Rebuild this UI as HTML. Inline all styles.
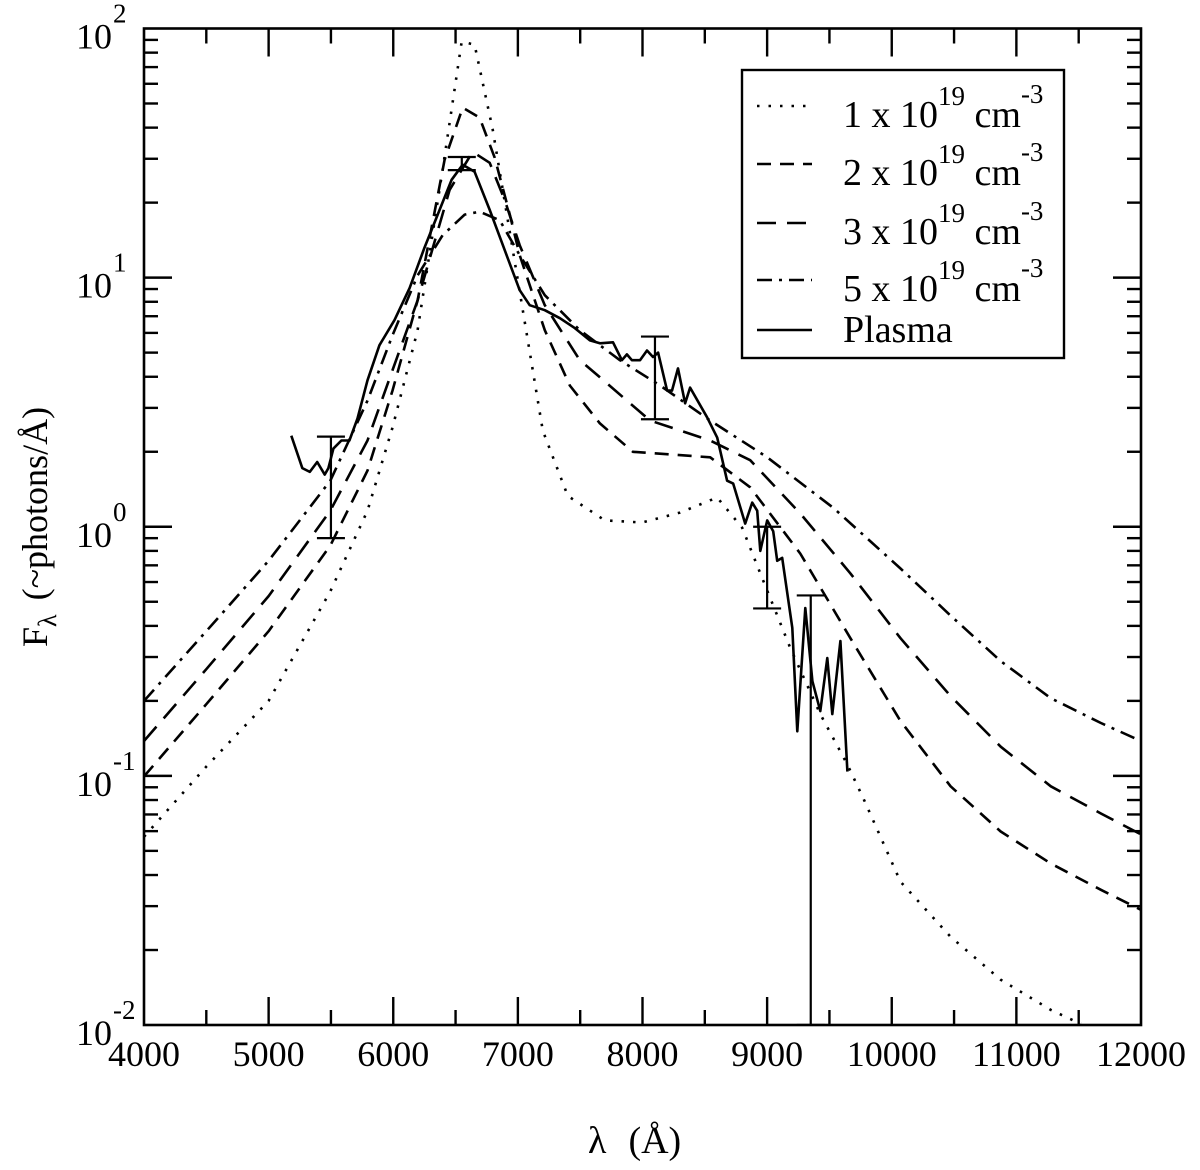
<!DOCTYPE html>
<html><head><meta charset="utf-8"><style>
html,body{margin:0;padding:0;background:#fff;width:1200px;height:1170px;overflow:hidden;position:relative;}
svg{display:block;position:absolute;left:0;top:0;overflow:hidden;font-family:"Liberation Serif",serif;}
</style></head><body>
<svg id="chart" width="1200" height="1170" viewBox="0 0 1200 1170" xmlns="http://www.w3.org/2000/svg"></svg>
<script>
// ---- data ----
const xTicks = [4000,5000,6000,7000,8000,9000,10000,11000,12000];
const yDecades = [-2,-1,0,1,2];
const lamDotted = [4000,4500,5000,5495,5793,5994,6195,6396,6549,6653,6798,6999,7200,7401,7698,7996,8301,8599,8800,8945,9186,9427,9644,9773,10070,10472,10874,11276,11517];
const valDotted = [0.057,0.109,0.20,0.55,1.16,2.5,6.15,27.1,88.7,86,39.3,9.77,2.43,1.33,1.06,1.04,1.14,1.31,0.99,0.65,0.326,0.177,0.111,0.081,0.0376,0.0226,0.0152,0.0115,0.0101];
const lamDash2 = [4000,4500,5000,5495,5793,5994,6195,6412,6557,6693,6814,6935,7015,7216,7417,7658,7923,8543,8864,9266,9668,10070,10472,10874,11276,11678,12000];
const valDash2 = [0.0995,0.194,0.381,0.84,1.68,3.52,8.1,29.7,48.1,43.9,30.3,17.9,12.3,6.15,3.69,2.6,2.0,1.90,1.44,0.78,0.357,0.166,0.0908,0.0598,0.0445,0.0349,0.029];
const lamDash3 = [4000,4500,5000,5495,5793,5994,6195,6452,6637,6774,6894,7015,7216,7497,7658,8060,8543,8864,9266,9668,10070,10472,10874,11276,11678,12000];
const valDash3 = [0.138,0.268,0.527,1.16,2.22,4.25,8.1,22.5,32.0,28.9,20.5,13.5,7.75,4.66,3.98,2.67,2.22,1.85,1.13,0.65,0.357,0.209,0.131,0.0908,0.0706,0.0582];
const lamDashDot = [4000,4500,5000,5495,5793,5994,6195,6396,6573,6693,6854,7015,7216,7497,7819,8141,8543,9001,9532,10070,10472,10874,11276,11678,12000];
const valDashDot = [0.20,0.381,0.73,1.53,3.21,5.87,10.2,14.8,17.9,18.4,17.0,12.3,8.5,6.15,4.66,3.69,2.67,1.90,1.19,0.68,0.44,0.289,0.205,0.163,0.138];
const lamPlasma = [5182,5270,5330,5390,5450,5480,5520,5584,5648,5713,5793,5889,6010,6131,6251,6372,6468,6557,6653,6774,6894,7015,7095,7216,7337,7457,7578,7658,7763,7835,7875,7915,7980,8036,8084,8125,8197,8237,8285,8342,8382,8518,8599,8679,8728,8824,8880,8920,8945,9001,9049,9081,9121,9202,9242,9306,9363,9427,9483,9523,9588,9644];
const valPlasma = [2.32,1.72,1.66,1.82,1.62,1.72,2.06,2.22,2.22,2.72,3.87,5.35,6.75,9.08,13.2,18.7,24.7,28.4,26.6,18.7,12.9,8.9,7.75,7.4,6.87,6.27,5.6,5.45,5.5,4.66,4.92,4.66,4.66,5.1,4.8,5.0,3.52,3.52,4.32,3.13,3.62,2.75,2.28,1.53,1.49,1.03,1.25,1.16,0.80,1.06,0.96,0.73,0.75,0.393,0.151,0.472,0.24,0.182,0.297,0.177,0.348,0.104];
const errLam = [5500,6550,8100,9000,9350];
const errHi = [2.3,30.5,5.8,1.0,0.53];
const errLo = [0.9,27,2.7,0.47,0.001];

// ---- axes ----
const L=144, R=1141, T=28.5, B=1025;
const X0=4000, X1=12000, YL0=-2, YL1=2;
function xs(v){return L+(v-X0)/(X1-X0)*(R-L);}
function ys(v){return B-(Math.log10(v)-YL0)/(YL1-YL0)*(B-T);}
function ysLog(l){return B-(l-YL0)/(YL1-YL0)*(B-T);}
const svg=document.getElementById('chart');
const NS='http://www.w3.org/2000/svg';
function mk(tag,attrs,parent){const e=document.createElementNS(NS,tag);for(const k in attrs)e.setAttribute(k,attrs[k]);(parent||svg).appendChild(e);return e;}

const plotClip=mk('clipPath',{id:'clip'});
mk('rect',{x:L,y:T,width:R-L,height:B-T},plotClip);

const ticks=mk('g',{stroke:'#000','stroke-width':2.4});


for(let v=X0; v<=X1; v+=500){
  const major=(v%1000===0), len=major?28:15, x=xs(v);
  if(v>X0&&v<X1){
    mk('line',{x1:x,y1:B,x2:x,y2:B-len},ticks);
    mk('line',{x1:x,y1:T,x2:x,y2:T+len},ticks);
  }
}
for(let d=YL0; d<YL1; d++){
  for(let m=1;m<=9;m++){
    const l=d+Math.log10(m); if(l<=YL0) continue;
    const y=ysLog(l), len=(m===1)?28:14;
    mk('line',{x1:L,y1:y,x2:L+len,y2:y},ticks);
    mk('line',{x1:R,y1:y,x2:R-len,y2:y},ticks);
  }
}
const frame=mk('rect',{x:L,y:T,width:R-L,height:B-T,fill:'none',stroke:'#000','stroke-width':2.6});



xTicks.forEach(v=>{
  const t=mk('text',{x:xs(v),y:1066,'font-size':36,'text-anchor':'middle'});
  t.textContent=v;
  
  
});
yDecades.forEach(d=>{
  const y=ysLog(d);
  const t=mk('text',{x:112,y:y+20,'font-size':36,'text-anchor':'end'});
  t.textContent='10';
  
  
  const s=mk('text',{x:113,y:y-6,'font-size':27});
  s.textContent=String(d);
  
  
});

// ---- series ----
function series(lam,val,dash,name){
  const p=lam.map((l,i)=>(i?'L':'M')+xs(l).toFixed(1)+','+ys(val[i]).toFixed(1)).join(' ');
  const e=mk('path',{d:p,fill:'none',stroke:'#000','stroke-width':2.6,'stroke-dasharray':dash,'stroke-linejoin':'round','clip-path':'url(#clip)'});
  
  
}
series(lamDotted,valDotted,'2.5 9','series-1e19-dotted');
series(lamDash2,valDash2,'14 9','series-2e19-dashed');
series(lamDash3,valDash3,'19 11','series-3e19-long-dashed');
series(lamDashDot,valDashDot,'15 7 3 7','series-5e19-dash-dot');
series(lamPlasma,valPlasma,'none','series-plasma');

const eg=mk('g',{stroke:'#000','stroke-width':2.2,'clip-path':'url(#clip)'});


errLam.forEach((l,i)=>{
  const x=xs(l), y1=ys(errHi[i]), y2=Math.min(ys(errLo[i]),B);
  mk('line',{x1:x,y1:y1,x2:x,y2:y2},eg);
  mk('line',{x1:x-14,y1:y1,x2:x+14,y2:y1},eg);
  mk('line',{x1:x-14,y1:y2,x2:x+14,y2:y2},eg);
});

// ---- legend ----
const lg=mk('g',{});


mk('rect',{x:742,y:70,width:322,height:288,fill:'#fff',stroke:'#000','stroke-width':2.4},lg);
const legDash=['2.5 9','14 9','19 11','15 7 3 7','none'];
const legNum=['1','2','3','5'];
const legY=[106,164,223,280,330];
legY.forEach((y,i)=>{
  const ln=mk('line',{x1:757,y1:y,x2:812,y2:y,stroke:'#000','stroke-width':2.6,'stroke-dasharray':legDash[i]},lg);
  
  
  const t=mk('text',{x:843,y:y+(i<4?21:12),'font-size':38},lg);
  
  
  if(i<4){
    t.innerHTML=legNum[i]+' x 10<tspan dy="-22" font-size="27">19</tspan><tspan dy="22"> cm</tspan><tspan dy="-24" font-size="27">-3</tspan>';
  } else t.textContent='Plasma';
});

// ---- axis titles ----
const xt=mk('text',{x:588,y:1153,'font-size':38});


xt.innerHTML='λ<tspan dx="22">(Å)</tspan>';
const yt=mk('text',{x:0,y:0,'font-size':36,'text-anchor':'middle',transform:'translate(47,527) rotate(-90)'});


yt.innerHTML='F<tspan dy="9" font-size="26">λ</tspan><tspan dy="-9" dx="14">(~photons/Å)</tspan>';
</script>
</body></html>
